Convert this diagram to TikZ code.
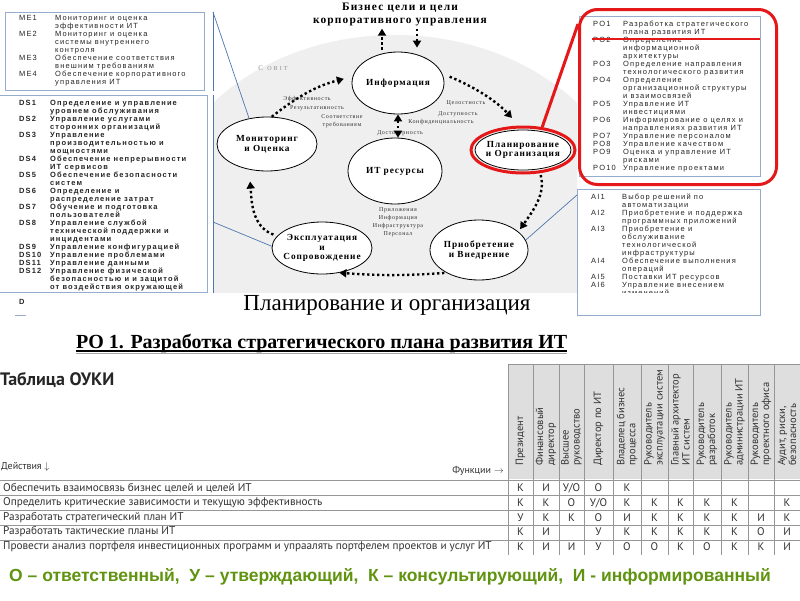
\documentclass[tikz,border=0pt]{standalone}
\usepackage{fontspec}
\setmainfont{Liberation Serif}
\newfontfamily\listfont[LetterSpace=15]{Liberation Sans}
\newfontfamily\wideserif[LetterSpace=10]{Liberation Serif}
\newfontfamily\scanfont{PT Sans}
\newfontfamily\legendfont{Liberation Sans}
\usetikzlibrary{arrows.meta,shapes.geometric}
\definecolor{panelblue}{RGB}{150,172,205}
\definecolor{linkblue}{RGB}{79,118,176}
\definecolor{cobitbg}{RGB}{239,239,239}
\definecolor{hilite}{RGB}{228,24,24}
\definecolor{listink}{RGB}{38,38,38}
\definecolor{scanink}{RGB}{50,50,50}
\definecolor{scangrid}{RGB}{150,150,150}
\definecolor{scanhead}{RGB}{222,222,222}
\definecolor{legendgreen}{RGB}{96,148,16}

\begin{document}
\begin{tikzpicture}[x=1pt, y=-1pt,
    panelbox/.style={draw=panelblue, line width=0.8pt, inner sep=0pt},
    listtxt/.style={anchor=north west, inner sep=0pt, text=listink,
                    font=\listfont\fontsize{7.5}{8}\selectfont},
    stage/.style={ellipse, draw, line width=0.8pt, fill=white, align=center,
                  inner sep=-7pt, font=\wideserif\bfseries\fontsize{9.3}{9.8}\selectfont},
    note/.style={inner sep=0pt, text=black!80, align=center,
                 font=\wideserif\fontsize{6}{7.8}\selectfont},
    flow/.style={line width=2.4pt, dash pattern=on 2.4pt off 2.6pt,
                 -{Triangle[length=7pt,width=8pt]}},
    link/.style={draw=linkblue, line width=0.7pt},
    scan/.style={inner sep=0pt, text=scanink, font=\scanfont\fontsize{11.2}{12}\selectfont},
    scanrule/.style={draw=scangrid, line width=0.6pt}]
  \useasboundingbox (0,0) rectangle (800,600);
  \fill[white] (0,0) rectangle (800,600);

  % COBIT backdrop
  \begin{scope}
    \clip (214,0) rectangle (577,292);
    \fill[cobitbg] (395,230) ellipse (240 and 195);
  \end{scope}

  % domain lists round the cycle
  \node[panelbox, anchor=north west, minimum width=199pt, minimum height=78pt] (mebox) at (5,12) {};
  \node[listtxt] (melist) at (19,15) {\begin{tabular}{@{}p{36pt}@{}l@{}}
    ME1 & Мониторинг и оценка\\
        & эффективности ИТ\\
    ME2 & Мониторинг и оценка\\
        & системы внутреннего\\
        & контроля\\
    ME3 & Обеспечение соответствия\\
        & внешним требованиям\\
    ME4 & Обеспечение корпоративного\\
        & управления ИТ
  \end{tabular}};

  \node[panelbox, anchor=north west, minimum width=209pt, minimum height=197pt] (dsbox) at (-2,95) {};
  \node[listtxt, font=\listfont\bfseries\fontsize{7.5}{8}\selectfont] (dslist) at (19,100) {\begin{tabular}{@{}p{31pt}@{}l@{}}
    DS1  & Определение и управление\\
         & уровнем обслуживания\\
    DS2  & Управление услугами\\
         & сторонних организаций\\
    DS3  & Управление\\
         & производительностью и\\
         & мощностями\\
    DS4  & Обеспечение непрерывности\\
         & ИТ сервисов\\
    DS5  & Обеспечение безопасности\\
         & систем\\
    DS6  & Определение и\\
         & распределение затрат\\
    DS7  & Обучение и подготовка\\
         & пользователей\\
    DS8  & Управление службой\\
         & технической поддержки и\\
         & инцидентами\\
    DS9  & Управление конфигурацией\\
    DS10 & Управление проблемами\\
    DS11 & Управление данными\\
    DS12 & Управление физической\\
         & безопасностью и и защитой\\
         & от воздействия окружающей
  \end{tabular}};
  \node[listtxt, font=\listfont\bfseries\fontsize{7.5}{8}\selectfont] (dsmore) at (19,299) {D};
  \draw[panelblue] (15,315) -- (26,315);

  \node[panelbox, anchor=north west, minimum width=181pt, minimum height=160pt] (pobox) at (579,16) {};
  \node[listtxt] (polist) at (593,21) {\begin{tabular}{@{}p{30pt}@{}l@{}}
    PO1  & Разработка стратегического\\
         & плана развития ИТ\\
    PO2  & Определение\\
         & информационной\\
         & архитектуры\\
    PO3  & Определение направления\\
         & технологического развития\\
    PO4  & Определение\\
         & организационной структуры\\
         & и взаимосвязей\\
    PO5  & Управление ИТ\\
         & инвестициями\\
    PO6  & Информирование о целях и\\
         & направлениях развития ИТ\\
    PO7  & Управление персоналом\\
    PO8  & Управление качеством\\
    PO9  & Оценка и управление ИТ\\
         & рисками\\
    PO10 & Управление проектами
  \end{tabular}};
  \draw[hilite, line width=2.6pt] (592,39) -- (760,39);
  \node[draw=hilite, line width=3pt, rounded corners=18pt, anchor=north west,
        minimum width=197pt, minimum height=175pt] (poframe) at (578,8) {};

  \node[panelbox, anchor=north west, minimum width=183pt, minimum height=126pt] (aibox) at (577,189) {};
  \begin{scope}
    \clip (577,189) rectangle (760,292);
    \node[listtxt] (ailist) at (591,194) {\begin{tabular}{@{}p{31pt}@{}l@{}}
      AI1 & Выбор решений по\\
          & автоматизации\\
      AI2 & Приобретение и поддержка\\
          & программных приложений\\
      AI3 & Приобретение и\\
          & обслуживание\\
          & технологической\\
          & инфраструктуры\\
      AI4 & Обеспечение выполнения\\
          & операций\\
      AI5 & Поставки ИТ ресурсов\\
      AI6 & Управление внесением\\
          & изменений
    \end{tabular}};
  \end{scope}

  % the cycle itself
  \node[font=\wideserif\bfseries\fontsize{11.4}{13}\selectfont, align=center, inner sep=1pt] (goal) at (400,14)
    {Бизнес цели и цели\\корпоративного управления};
  \node[stage, minimum width=92pt, minimum height=62pt]  (info) at (398,83)  {Информация};
  \node[stage, minimum width=94pt, minimum height=66pt]  (res)  at (395,171) {ИТ ресурсы};
  \node[stage, minimum width=100pt, minimum height=54pt] (mon)  at (267,144) {Мониторинг\\и Оценка};
  \node[stage, minimum width=96pt, minimum height=40pt]  (plan) at (523,150) {Планирование\\и Организация};
  \node[ellipse, draw=hilite, line width=3pt, minimum width=104pt, minimum height=46pt] (planring) at (plan) {};
  \node[stage, minimum width=100pt, minimum height=52pt] (expl) at (322,248) {Эксплуатация\\и\\Сопровождение};
  \node[stage, minimum width=98pt, minimum height=60pt]  (acq)  at (479,250) {Приобретение\\и Внедрение};

  \node[note, text=black!45] (cobit) at (273,68) {{\fontsize{7}{8}\selectfont C}\ \ O B I T};
  \node[note] (eff)    at (307,99)  {Эффективность};
  \node[note] (rezult) at (317,108) {Результативность};
  \node[note] (sootv)  at (342,121) {Соответствие\\требованиям};
  \node[note] (celost) at (466,103) {Целостность};
  \node[note] (dostup) at (458,114) {Доступность};
  \node[note] (konf)   at (441,122) {Конфиденциальность};
  \node[note] (dostov) at (400,133) {Достоверность};
  \node[note] (resl)   at (398,222) {Приложения\\Информация\\Инфраструктура\\Персонал};

  \draw[flow, shorten <=2pt, shorten >=2pt] ([xshift=-16pt]info.north) -- ([xshift=-16pt]info.north |- goal.south);
  \draw[flow, shorten <=2pt, shorten >=4pt] ([xshift=17pt]goal.south) -- ([xshift=17pt]goal.south |- info.north);
  \draw[flow, shorten >=9pt] (mon.80) to[bend left=12] (info.172);
  \draw[flow, shorten <=8pt, shorten >=16pt] (info.12) to[bend left=12] (plan.90);
  \draw[flow, shorten <=6pt, shorten >=3pt] (plan.-50) to[out=-75, in=55] (acq.25);
  \draw[flow, shorten <=2pt] (acq.215) to[bend left=4] (expl.-55);
  \draw[flow, shorten <=4pt, shorten >=12pt] (expl.165) to[out=160, in=-85] (mon.235);
  \draw[flow, {Triangle[length=7pt,width=8pt]}-{Triangle[length=7pt,width=8pt]}] (info.south) -- (info.south |- res.north);

  % ties from the lists to their domains
  \coordinate (mej) at (213,12);
  \coordinate (dsj) at (213,95);
  \coordinate (dsk) at (213,222);
  \coordinate (aij) at (577,195);
  \coordinate (poj) at (578,24);
  \draw[link] (mej) -- (mej |- mebox.south);
  \draw[link] (mej) -- (mon.125);
  \draw[link] (dsj) -- (dsj |- dsbox.south);
  \draw[link] (dsk) -- (expl.178);
  \draw[link] (aij) -- (acq.12);
  \draw[hilite, line width=3pt] (planring.50) -- (poj);

  \node[font=\fontsize{23}{26}\selectfont] (caption) at (387,305) {Планирование и организация};

  % RACI part
  \node[font=\bfseries\fontsize{20}{22}\selectfont, anchor=west, inner sep=0pt] (potitle) at (76,343)
    {РО 1. Разработка стратегического плана развития ИТ};
  \draw[line width=1.1pt] ([yshift=-3pt]potitle.base west) -- ([yshift=-3pt]potitle.base east);
  \draw[black!35, line width=0.8pt] ([yshift=-5pt]potitle.base west) -- ([yshift=-5pt]potitle.base east);

  \node[scan, anchor=west, font=\scanfont\bfseries\fontsize{18}{20}\selectfont, text=black!85] (tabtitle) at (0,380) {Таблица ОУКИ};

  \fill[scanhead] (508,364) rectangle (800,479);
  \draw[scanrule] (508,364) -- (800,364);
  \foreach \x in {508,533,559,584,613,641,668,693,721,748,774}
    \draw[scanrule] (\x,364) -- (\x,555);
  \foreach \y in {480,495,510,525,540}
    \draw[scanrule] (0,\y) -- (800,\y);

  \foreach \x/\t [count=\c] in {520.5/Президент, 546/{Финансовый\\директор}, 571.5/{Высшее\\руководство},
      598.5/Директор по ИТ, 627/{Владелец бизнес\\процесса}, 654.5/{Руководитель\\эксплуатации систем},
      680.5/{Главный архитектор\\ИТ систем}, 707/{Руководитель\\разработок}, 734.5/{Руководитель\\администрации ИТ},
      761/{Руководитель\\проектного офиса}, 787/{Аудит, риски,\\безопасность}}
    \node[scan, rotate=90, anchor=west, align=left, font=\scanfont\fontsize{10.5}{11}\selectfont] (fn\c) at (\x,466) {\t};

  \node[scan, anchor=west, font=\scanfont\fontsize{10}{11}\selectfont] (acts) at (1,467) {Действия $\downarrow$};
  \node[scan, anchor=east, font=\scanfont\fontsize{10}{11}\selectfont] (funcs) at (504,471) {Функции $\rightarrow$};

  \node[scan, anchor=west] (act1) at (3,488) {Обеспечить взаимосвязь бизнес целей и целей ИТ};
  \node[scan, anchor=west] (act2) at (3,503) {Определить критические зависимости и текущую эффективность};
  \node[scan, anchor=west] (act3) at (3,518) {Разработать стратегический план ИТ};
  \node[scan, anchor=west] (act4) at (3,532) {Разработать тактические планы ИТ};
  \node[scan, anchor=west] (act5) at (3,547) {Провести анализ портфеля инвестиционных программ и упраалять портфелем проектов и услуг ИТ};

  \foreach \y/\vals [count=\r] in {488/{К,И,{У/О},О,К,,,,,,},
                                   503/{К,К,О,{У/О},К,К,К,К,К,,К},
                                   518/{У,К,К,О,И,К,К,К,К,И,К},
                                   532/{К,И,,У,К,К,К,К,К,О,И},
                                   547/{К,И,И,У,О,О,К,О,К,К,И}}
    \foreach \v [count=\c] in \vals
      \node[scan, font=\scanfont\fontsize{11}{12}\selectfont] (cell\r-\c) at (fn\c.west |- 0,\y) {\v};

  \node[anchor=west, inner sep=0pt, text=legendgreen, font=\legendfont\bfseries\fontsize{17.5}{20}\selectfont] (legend) at (9,577)
    {О – ответственный,\ \ У – утверждающий,\ \ К – консультирующий,\ \ И - информированный};
\end{tikzpicture}
\end{document}
